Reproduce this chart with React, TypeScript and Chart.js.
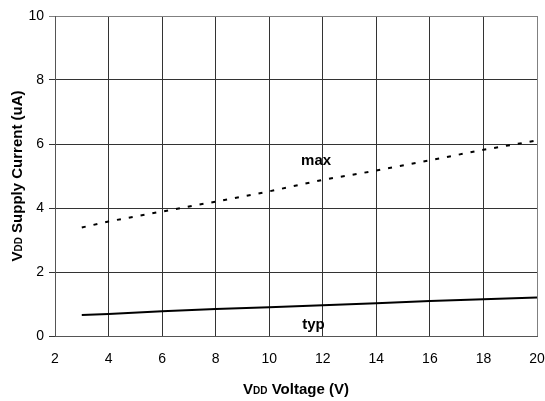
import React, { useEffect, useRef } from "react";
import { Chart, registerables } from "chart.js";

Chart.register(...registerables);

const voltage = [3, 4, 6, 8, 10, 12, 14, 16, 18, 20];
const maxCurrent = [3.39, 3.58, 3.89, 4.2, 4.52, 4.88, 5.17, 5.49, 5.82, 6.11];
const typCurrent = [0.66, 0.69, 0.77, 0.84, 0.9, 0.96, 1.02, 1.09, 1.15, 1.2];
const xTicks = [2, 4, 6, 8, 10, 12, 14, 16, 18, 20];
const yTicks = [0, 2, 4, 6, 8, 10];
const annotations = [
  { text: "max", x: 11.75, y: 5.35 },
  { text: "typ", x: 11.65, y: 0.21 },
];

const FONT = "'Liberation Sans', Arial, sans-serif";

function drawSubText(
  ctx: CanvasRenderingContext2D,
  parts: { t: string; size: number; dy: number }[],
  cx: number,
  cy: number
) {
  let total = 0;
  for (const p of parts) {
    ctx.font = `bold ${p.size}px ${FONT}`;
    total += ctx.measureText(p.t).width;
  }
  let x = cx - total / 2;
  for (const p of parts) {
    ctx.font = `bold ${p.size}px ${FONT}`;
    ctx.fillText(p.t, x, cy + p.dy);
    x += ctx.measureText(p.t).width;
  }
}

const titlesPlugin = {
  id: "titles",
  afterDraw(chart: any) {
    const ctx = chart.ctx as CanvasRenderingContext2D;
    const xs = chart.scales.x;
    const ys = chart.scales.y;
    ctx.save();
    ctx.fillStyle = "#000";
    ctx.textBaseline = "alphabetic";
    ctx.textAlign = "left";
    for (const a of annotations) {
      ctx.font = `bold 15px ${FONT}`;
      const w = ctx.measureText(a.text).width;
      ctx.fillText(a.text, xs.getPixelForValue(a.x) - w / 2, ys.getPixelForValue(a.y));
    }
    const xParts = [
      { t: "V", size: 15, dy: 0 },
      { t: "DD", size: 10, dy: 0 },
      { t: " Voltage (V)", size: 15, dy: 0 },
    ];
    drawSubText(ctx, xParts, (chart.chartArea.left + chart.chartArea.right) / 2, 394);
    ctx.translate(22, (chart.chartArea.top + chart.chartArea.bottom) / 2);
    ctx.rotate(-Math.PI / 2);
    const yParts = [
      { t: "V", size: 15, dy: 0 },
      { t: "DD", size: 10, dy: 0 },
      { t: " Supply Current (uA)", size: 15, dy: 0 },
    ];
    drawSubText(ctx, yParts, 0, 0);
    ctx.restore();
  },
};

export default function App() {
  const ref = useRef<HTMLCanvasElement | null>(null);
  useEffect(() => {
    if (!ref.current) return;
    const chart = new Chart(ref.current, {
      type: "line",
      data: {
        datasets: [
          {
            label: "max",
            data: voltage.map((v, i) => ({ x: v, y: maxCurrent[i] })),
            borderColor: "#000",
            borderWidth: 2,
            borderDash: [4, 8],
            pointRadius: 0,
            tension: 0,
            fill: false,
          },
          {
            label: "typ",
            data: voltage.map((v, i) => ({ x: v, y: typCurrent[i] })),
            borderColor: "#000",
            borderWidth: 2,
            pointRadius: 0,
            tension: 0,
            fill: false,
          },
        ],
      },
      options: {
        responsive: false,
        animation: false,
        layout: { padding: { left: 0, right: 8, top: 16, bottom: 0 } },
        plugins: { legend: { display: false }, tooltip: { enabled: false } },
        scales: {
          x: {
            type: "linear",
            min: 2,
            max: 20,
            afterBuildTicks: (s: any) => {
              s.ticks = xTicks.map((v) => ({ value: v }));
            },
            afterFit: (s: any) => {
              s.height = 65;
              s.paddingLeft = 0;
              s.paddingRight = 0;
            },
            grid: {
              color: (c: any) => (c.tick && c.tick.value === 20 ? "#808080" : "#333"),
              lineWidth: 1,
              drawTicks: false,
            },
            border: { color: "#555", width: 1 },
            ticks: {
              color: "#000",
              font: { family: FONT, size: 14 },
              padding: 15,
              maxRotation: 0,
              autoSkip: false,
            },
          },
          y: {
            type: "linear",
            min: 0,
            max: 10,
            afterBuildTicks: (s: any) => {
              s.ticks = yTicks.map((v) => ({ value: v }));
            },
            afterFit: (s: any) => {
              s.width = 55;
              s.paddingTop = 0;
              s.paddingBottom = 0;
            },
            grid: {
              color: (c: any) => (c.tick && c.tick.value === 10 ? "#808080" : "#333"),
              lineWidth: 1,
              drawTicks: true,
              tickLength: 6,
            },
            border: { color: "#555", width: 1 },
            ticks: {
              color: "#000",
              font: { family: FONT, size: 14 },
              padding: 5,
            },
          },
        },
      },
      plugins: [titlesPlugin],
    } as any);
    return () => chart.destroy();
  }, []);
  return (
    <div style={{ position: "fixed", left: 0, top: 0, width: 545, height: 401, background: "#fff" }}>
      <canvas ref={ref} width={545} height={401} style={{ display: "block" }} />
    </div>
  );
}
